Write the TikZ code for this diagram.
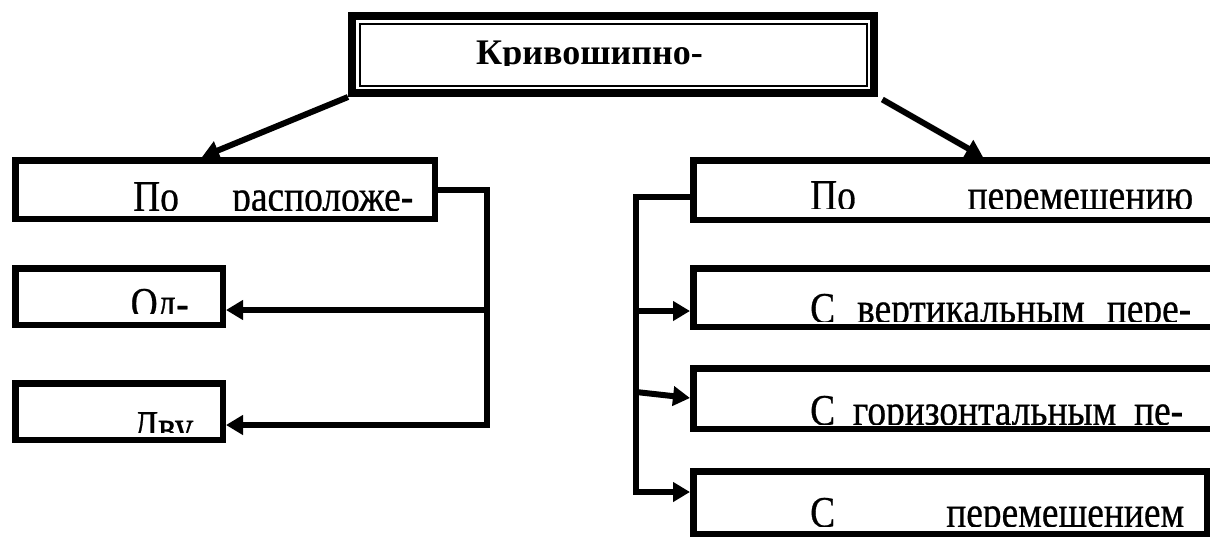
\documentclass[tikz,border=0pt]{standalone}
\usepackage{fontspec}
\setmainfont{Liberation Serif}
\newfontfamily\boxfont[FakeStretch=0.85,FakeBold=0.6]{Liberation Serif}
\newfontfamily\headfont{Liberation Serif}
\usetikzlibrary{arrows.meta,calc}

\begin{document}
\begin{tikzpicture}[
                    x=1pt, y=-1pt,
                    box/.style={draw, line width=6.5pt, inner sep=0pt, anchor=north west},
                    wire/.style={line width=6pt},
                    arr/.style={wire, -{Triangle[length=17pt,width=19pt]}},
                    lbl/.style={anchor=base west, inner sep=0pt, font=\boxfont\fontsize{44}{44}\selectfont},
                    headlbl/.style={anchor=base west, inner sep=0pt, font=\headfont\bfseries\fontsize{36}{36}\selectfont},
                ]
                \useasboundingbox (0,0) rectangle (1210,538);

                \node[box, line width=8pt, minimum width=522pt, minimum height=77pt] (crank) at (348,12) {};
                \draw[line width=1.8pt] ([shift={(12,12)}]crank.north west) rectangle ([shift={(-11,-11)}]crank.south east);

                \node[box, minimum width=419.5pt, minimum height=58.5pt] (byplace) at (12,157) {};
                \node[box, minimum width=207.5pt, minimum height=56.5pt] (single) at (12,265) {};
                \node[box, minimum width=207.5pt, minimum height=56.5pt] (twin) at (12,380) {};

                \node[box, minimum width=543.5pt, minimum height=59.5pt] (bymove) at (690,157) {};
                \node[box, minimum width=543.5pt, minimum height=58.5pt] (vmove) at (690,265) {};
                \node[box, minimum width=543.5pt, minimum height=60.5pt] (hmove) at (690,365) {};
                \node[box, minimum width=513.5pt, minimum height=62.5pt] (cmove) at (690,468) {};

                \begin{scope}
                    \clip (crank.north west) rectangle (crank.east |- 0,65);
                    \node[headlbl] (crank-t) at (476,64) {Кривошипно-};
                \end{scope}

                \foreach \b/\x/\y/\c/\w/\t in {
                    byplace/133/211/210/280/{По\hfill расположе-},
                    single/130/318/313/0/{Од-\hss},
                    twin/132/441/432/0/{Дву\hss},
                    bymove/810/210/208/383/{По\hfill перемещению},
                    vmove/810/323/321/381/{С\hfill вертикальным\hfill пере-},
                    hmove/810/425/424/373/{С\hfill горизонтальным\hfill пе-},
                    cmove/810/527/526/374/{С\hfill перемещением}}
                {
                    \begin{scope}
                        \clip (\b.north west) rectangle (\b.east |- 0,\c);
                        \node[lbl] (\b-t) at (\x,\y) {\hbox to \w pt{\t}};
                    \end{scope}
                }

                \coordinate (lb2) at (487,310);
                \coordinate (lb3) at (487,425);
                \coordinate (rb1) at (636,197);
                \coordinate (rb2) at (636,311);
                \coordinate (rb3) at (636,392);
                \coordinate (rb4) at (636,492);

                \draw[arr] (crank.south west) -- ([xshift=-23pt]byplace.north);
                \draw[arr, shorten <=5pt] (crank.south east) -- ([xshift=18pt]bymove.north);

                \draw[arr] (byplace.east) -| (lb3) -- (twin.east |- lb3);
                \draw[arr] (lb2) -- (single.east |- lb2);

                \draw[arr] (bymove.west |- rb1) -- (rb1) -- (rb4) -- (cmove.west |- rb4);
                \draw[arr] (rb2) -- (vmove.west |- rb2);
                \draw[arr] (rb3) -- ($(hmove.west |- rb3)+(0,6)$);
            \end{tikzpicture}
\end{document}
